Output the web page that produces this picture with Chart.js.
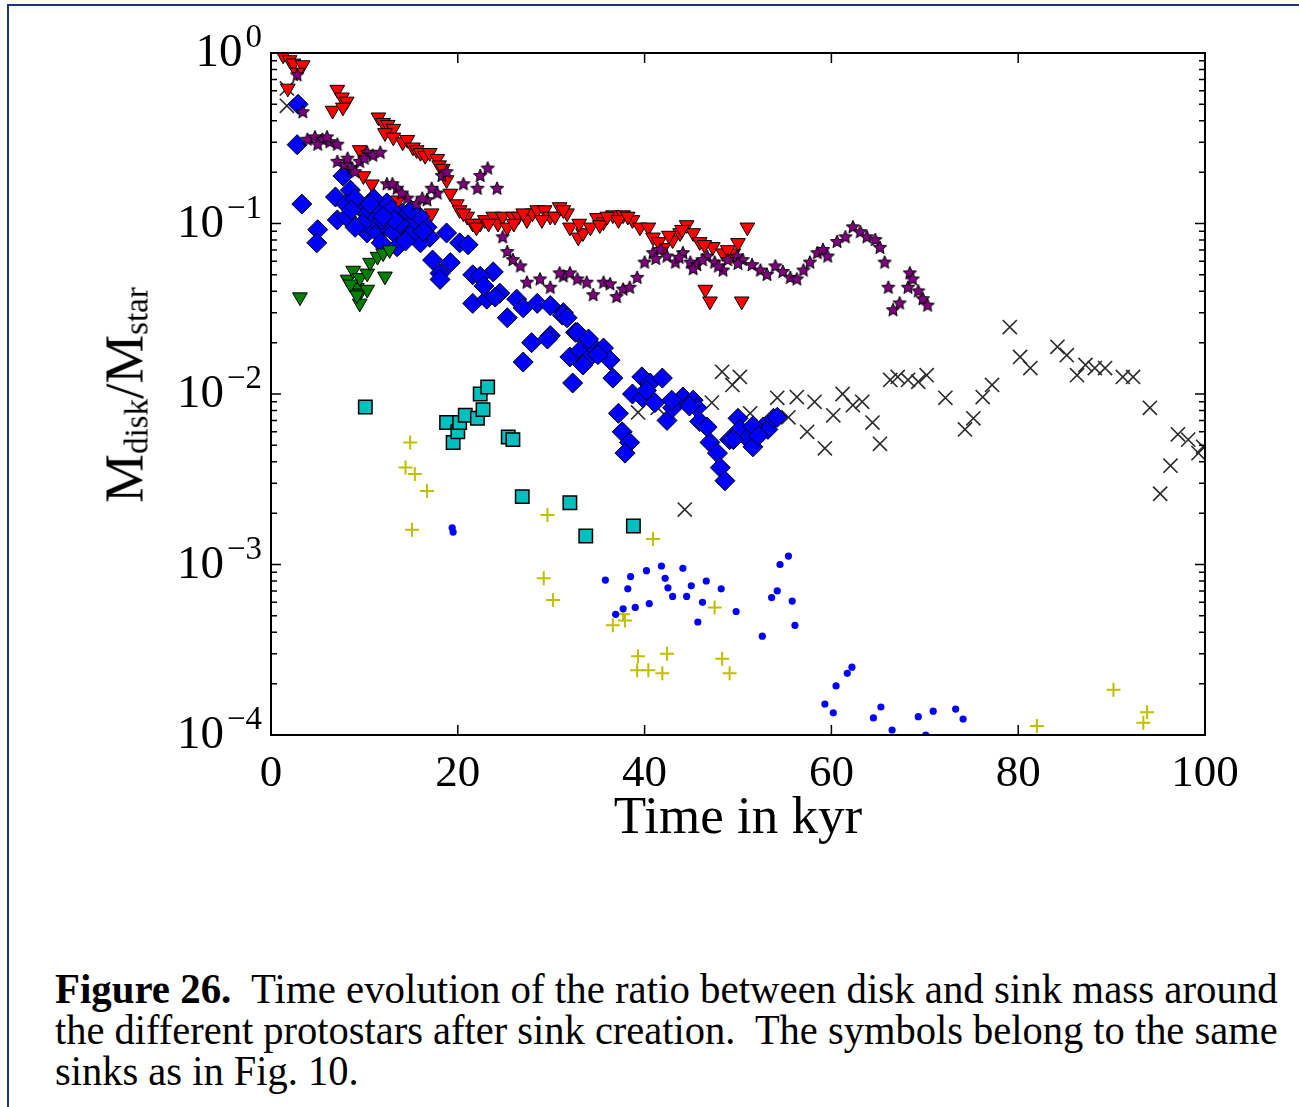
<!DOCTYPE html>
<html>
<head>
<meta charset="utf-8">
<script src="https://cdn.jsdelivr.net/npm/chart.js@4.4.1/dist/chart.umd.min.js"></script>
<style>
  body { margin: 0; background: #fff; width: 1299px; height: 1107px; overflow: hidden; position: relative; font-family: "Liberation Serif", serif; }
  #frame { position: absolute; left: 7px; top: 4px; width: 1400px; height: 1200px; border: 2px solid #1d3570; }
  #plot { position: absolute; left: 0; top: 0; }
  #ytitle { position: absolute; left: 124px; top: 395px; font-size: 55px; line-height: 1; white-space: nowrap;
            transform: translate(-50%, -50%) rotate(-90deg); color: #000; }
  #ytitle sub { font-size: 33px; vertical-align: -5px; line-height: 0; }
  .cap { position: absolute; left: 55px; font-size: 42px; line-height: 40px; white-space: pre; transform-origin: 0 0; color: #000; }
</style>
</head>
<body>
<div id="frame"></div>
<canvas id="plot" width="1299" height="900"></canvas>
<div id="ytitle">M<sub>disk</sub>/M<sub>star</sub></div>
<div class="cap" id="cap1" style="top:969px"><b>Figure 26.</b>  Time evolution of the ratio between disk and sink mass around</div>
<div class="cap" id="cap2" style="top:1010px">the different protostars after sink creation.  The symbols belong to the same</div>
<div class="cap" id="cap3" style="top:1051px">sinks as in Fig. 10.</div>
<script>
// time in kyr, Mdisk/Mstar
const redTri = [[1.3,0.97],[2.0,0.91],[2.4,0.87],[3.4,0.85],[2.8,0.77],[1.8,0.62],
  [7.1,0.61],[7.6,0.55],[8.1,0.52],[6.6,0.46],[7.7,0.48],
  [11.5,0.42],[12.0,0.39],[12.5,0.38],[13.1,0.36],[12.2,0.34],[13.1,0.32],
  [14.1,0.30],[14.6,0.31],[15.2,0.28],[15.6,0.27],[16.0,0.26],[16.5,0.25],[17.0,0.26],[17.8,0.24],[18.0,0.22],
  [18.4,0.21],[18.8,0.18],[19.2,0.15],[19.9,0.13],[20.2,0.12],[21.0,0.11],[21.6,0.10],[22.4,0.10],[22.9,0.105],
  [23.8,0.11],[24.3,0.10],[24.8,0.11],[25.3,0.095],[25.9,0.11],[26.5,0.11],[27.4,0.105],[28.0,0.115],[28.5,0.12],
  [29.3,0.12],[29.9,0.11],[30.4,0.11],[30.9,0.125],[31.7,0.115],[32.0,0.095],[32.9,0.083],[33.4,0.088],[34.2,0.095],
  [34.9,0.108],[35.6,0.102],[36.6,0.112],[37.7,0.112],[38.7,0.105],[39.5,0.095],[40.4,0.095],[40.9,0.083],[42.0,0.072],
  [43.0,0.080],[43.8,0.088],[44.5,0.098],[45.2,0.088],[45.9,0.078],[47.3,0.073],[48.4,0.067],[49.5,0.067],[50.0,0.077],
  [51.0,0.095],[46.5,0.041],[47.0,0.035],[50.4,0.035],
  [9.5,0.27],[9.9,0.19],[10.8,0.17],[17.2,0.115],[13.6,0.137],
  [20.6,0.115],[22.0,0.095],[23.3,0.10],[26.0,0.10],[27.0,0.115],[29.0,0.105],[31.3,0.12],[33.0,0.10],[35.2,0.098],
  [36.0,0.11],[37.2,0.105],[38.2,0.11],[41.5,0.078],[42.6,0.085],[44.0,0.092],[46.4,0.075],[48.9,0.07]];

const purpleStar = [[2.8,0.74],[3.4,0.45],[3.9,0.31],[4.7,0.32],[5.5,0.31],[6.3,0.30],[7.1,0.29],[7.1,0.23],[7.9,0.22],
  [8.7,0.21],[9.5,0.23],[10.3,0.26],[10.9,0.25],[11.7,0.26],[12.4,0.17],[13.5,0.16],[14.6,0.14],[15.6,0.13],[16.7,0.137],
  [17.8,0.15],[18.3,0.19],[18.8,0.20],[20.6,0.17],[22.1,0.16],[22.4,0.19],[23.2,0.21],[24.2,0.16],[24.8,0.083],[25.3,0.068],
  [25.9,0.061],[26.7,0.056],[27.4,0.045],[28.8,0.047],[29.9,0.042],[31.3,0.049],[32.0,0.051],[30.9,0.051],[32.8,0.047],
  [33.8,0.045],[34.5,0.038],[35.6,0.045],[36.3,0.044],[37.0,0.037],[37.7,0.041],[38.4,0.042],[39.2,0.048],[40.0,0.059],
  [40.9,0.067],[41.7,0.070],[42.4,0.064],[43.3,0.059],[44.1,0.067],[44.9,0.059],[45.6,0.057],[46.7,0.064],[47.5,0.059],
  [48.4,0.053],[48.9,0.061],[49.9,0.064],[50.5,0.061],[51.5,0.057],[52.4,0.053],[53.1,0.050],[54.0,0.056],[54.8,0.052],
  [55.6,0.048],[56.3,0.047],[57.0,0.053],[57.7,0.059],[58.5,0.067],[59.1,0.070],[59.6,0.064],[60.6,0.078],[61.5,0.083],
  [62.3,0.095],[63.1,0.089],[63.8,0.083],[64.7,0.080],[65.2,0.072],[65.7,0.059],[66.1,0.042],[66.6,0.031],[67.3,0.034],
  [68.2,0.042],[68.4,0.051],[68.7,0.047],[69.3,0.040],[69.8,0.036],[70.3,0.033],
  [5.0,0.29],[6.0,0.32],[8.2,0.24],[9.0,0.20],[10.0,0.24],[13.0,0.17],[14.0,0.15],[16.2,0.14],[17.2,0.16],
  [41.2,0.062],[43.7,0.063],[45.2,0.054],[46.2,0.061],[47.9,0.056],[50.0,0.058]];

const blueDiamond = [[2.9,0.50],[2.8,0.29],[3.3,0.13],[5.0,0.092],[4.9,0.077],[7.7,0.19],[8.5,0.157],[6.9,0.143],[7.1,0.105],
  [8.1,0.109],[9.5,0.125],[10.3,0.115],[11.4,0.12],[10.9,0.102],[10.3,0.088],[11.4,0.088],[12.4,0.132],[12.4,0.095],
  [13.1,0.089],[13.5,0.073],[14.1,0.115],[14.6,0.095],[15.2,0.102],[15.6,0.083],[16.7,0.095],[17.0,0.083],[16.0,0.077],
  [17.3,0.061],[18.1,0.051],[18.8,0.088],[20.2,0.077],[21.1,0.075],[19.2,0.059],[21.6,0.050],[23.8,0.052],[22.4,0.049],
  [18.1,0.047],[21.6,0.034],[23.1,0.036],[25.3,0.028],[27.0,0.0154],[27.9,0.020],[29.9,0.022],[29.6,0.021],[31.3,0.030],
  [32.0,0.0165],[32.6,0.023],[32.3,0.0116],[24.5,0.039],[26.3,0.036],[27.0,0.032],[28.5,0.034],[29.9,0.033],[31.2,0.029],
  [31.7,0.028],[32.8,0.023],[33.1,0.018],[34.5,0.019],[35.6,0.0186],[36.3,0.0158],[33.8,0.0158],[33.4,0.0148],[36.6,0.0124],
  [37.2,0.0077],[37.6,0.0060],[38.4,0.0052],[37.9,0.0045],[39.7,0.0126],[40.6,0.0116],[41.9,0.0124],[38.7,0.010],
  [39.8,0.0095],[41.1,0.0089],[42.4,0.0070],[43.0,0.0083],[44.1,0.0096],[45.2,0.0092],[45.6,0.0083],[45.9,0.0069],
  [46.7,0.0064],[47.0,0.0052],[47.8,0.0045],[48.1,0.0037],[48.6,0.0031],[49.1,0.0054],[50.0,0.0072],[50.2,0.0062],
  [51.0,0.0055],[51.6,0.0049],[52.7,0.0064],[53.2,0.0062],[53.8,0.0072],[54.2,0.0073],[49.5,0.0054],
  [8.0,0.13],[9.0,0.14],[9.8,0.10],[11.0,0.14],[11.9,0.105],[12.9,0.12],[13.8,0.10],[14.9,0.085],[15.9,0.11],
  [16.3,0.09],[9.0,0.095],[11.8,0.077],[13.2,0.105],[15.0,0.12],[10.6,0.13],[8.6,0.12],[14.4,0.079],[12.0,0.11],
  [22.8,0.043],[24.0,0.037],[34.0,0.021],[35.0,0.017],[40.2,0.0105],[42.9,0.0092],[44.8,0.0085],[51.6,0.0065],[52.2,0.0057]];

const greenTri = [[3.1,0.037],[8.2,0.047],[8.8,0.053],[9.2,0.042],[9.5,0.048],[9.5,0.039],[10.3,0.051],[10.3,0.041],
  [10.6,0.059],[11.4,0.064],[12.0,0.067],[12.2,0.049],[8.5,0.044],[9.5,0.034],[9.2,0.038],[12.7,0.07]];

const cyanSquare = [[10.1,0.0084],[18.8,0.0068],[19.5,0.0052],[20.0,0.0060],[20.2,0.0068],[20.8,0.0075],[22.1,0.0072],
  [22.4,0.010],[22.7,0.0081],[23.2,0.011],[25.4,0.0056],[25.9,0.0054],[26.9,0.0025],[32.0,0.0023],[33.7,0.00147],[38.8,0.00168]];

const yellowPlus = [[14.9,0.0052],[14.4,0.0037],[15.4,0.0034],[16.7,0.0027],[15.1,0.0016],[29.6,0.00195],[29.2,0.00083],
  [30.2,0.00062],[40.9,0.00141],[37.7,0.00051],[36.6,0.00044],[37.9,0.00047],[47.5,0.00056],[39.3,0.00029],[42.4,0.00030],
  [39.2,0.00024],[40.4,0.00024],[41.9,0.00023],[48.3,0.00028],[49.1,0.00023],[82.0,0.000113],[90.2,0.000184],
  [93.8,0.000136],[93.4,0.000118]];

const blueDot = [[19.4,0.00164],[19.5,0.00155],[35.8,0.00081],[38.5,0.00085],[38.2,0.00072],[40.2,0.00092],[41.8,0.00098],
  [42.2,0.00083],[42.5,0.00073],[43.0,0.00065],[44.1,0.00095],[45.0,0.00075],[44.5,0.00065],[46.6,0.0008],[46.2,0.0006],
  [48.2,0.00072],[45.7,0.00046],[49.8,0.00053],[40.5,0.00059],[39.0,0.00056],[37.7,0.00055],[36.9,0.00051],[52.6,0.00038],
  [53.6,0.00064],[54.2,0.0007],[54.5,0.001],[55.4,0.00112],[55.8,0.00061],[56.1,0.00044],[59.3,0.000152],[60.2,0.000135],
  [60.5,0.000194],[61.7,0.00023],[62.2,0.00025],[64.5,0.000126],[65.3,0.000146],[66.5,0.000107],[69.3,0.000128],
  [70.9,0.000138],[70.1,0.0001],[73.3,0.000142],[74.1,0.000124]];

const blackX = [[1.7,0.62],[1.7,0.49],[48.3,0.0135],[50.2,0.0126],[49.4,0.0113],[47.2,0.0089],[39.3,0.0078],[41.4,0.0083],
  [54.2,0.0095],[56.3,0.0096],[58.2,0.009],[60.2,0.0075],[61.2,0.010],[62.3,0.0086],[63.3,0.009],[64.4,0.0068],[51.3,0.0077],
  [55.4,0.0073],[57.4,0.006],[59.3,0.0048],[44.3,0.0021],[65.2,0.0051],[66.3,0.0121],[67.1,0.0126],[68.2,0.0121],
  [69.3,0.0118],[70.2,0.0129],[72.2,0.0095],[74.3,0.0062],[75.2,0.0072],[76.2,0.0096],[77.2,0.0113],[79.1,0.0247],
  [80.2,0.0165],[81.3,0.0142],[84.2,0.0189],[85.2,0.0169],[86.3,0.0129],[87.2,0.0148],[88.2,0.0142],[89.3,0.0142],
  [91.2,0.0126],[92.3,0.0126],[94.1,0.0083],[96.3,0.0038],[95.2,0.0026],[97.1,0.0058],[98.2,0.0054],[99.3,0.0045],[99.8,0.0049]];

const xTicks = [0, 20, 40, 60, 80, 100];
const yTicks = [1, 0.1, 0.01, 0.001, 0.0001];
const yTickExp = ['0', '\u22121', '\u22122', '\u22123', '\u22124'];

const FONT = '"Liberation Serif", "DejaVu Serif", serif';

function pts(arr) {
  return arr.map(p => ({ x: p[0], y: p[1] }));
}

// filled 5-point star marker
function makeStar(r, fill) {
  const s = Math.ceil(r * 2 + 4);
  const c = document.createElement('canvas');
  c.width = s; c.height = s;
  const g = c.getContext('2d');
  g.beginPath();
  for (let i = 0; i < 10; i++) {
    const a = -Math.PI / 2 + i * Math.PI / 5;
    const rr = i % 2 ? r * 0.45 : r;
    g.lineTo(s / 2 + rr * Math.cos(a), s / 2 + rr * Math.sin(a));
  }
  g.closePath();
  g.fillStyle = fill;
  g.fill();
  g.strokeStyle = '#000';
  g.lineWidth = 1;
  g.stroke();
  return c;
}

// frame, inward ticks and log tick labels
const frameTicks = {
  id: 'frameTicks',
  afterDatasetsDraw(chart) {
    const { ctx, chartArea: a, scales: { x, y } } = chart;
    ctx.save();
    ctx.strokeStyle = '#000';
    ctx.lineWidth = 1.5;
    ctx.beginPath();
    xTicks.forEach(v => {
      const px = x.getPixelForValue(v);
      ctx.moveTo(px, a.bottom); ctx.lineTo(px, a.bottom - 10);
      ctx.moveTo(px, a.top); ctx.lineTo(px, a.top + 10);
    });
    yTicks.forEach(v => {
      const py = y.getPixelForValue(v);
      ctx.moveTo(a.left, py); ctx.lineTo(a.left + 10, py);
      ctx.moveTo(a.right, py); ctx.lineTo(a.right - 10, py);
      if (v < 1) {
        for (let k = 2; k <= 9; k++) {
          const pm = y.getPixelForValue(v * k);
          ctx.moveTo(a.left, pm); ctx.lineTo(a.left + 6, pm);
          ctx.moveTo(a.right, pm); ctx.lineTo(a.right - 6, pm);
        }
      }
    });
    ctx.stroke();
    ctx.lineWidth = 2;
    ctx.strokeRect(a.left, a.top, a.right - a.left, a.bottom - a.top);

    ctx.fillStyle = '#000';
    ctx.textAlign = 'right';
    ctx.textBaseline = 'alphabetic';
    yTicks.forEach((v, i) => {
      const py = y.getPixelForValue(v);
      ctx.font = '33px ' + FONT;
      const ew = ctx.measureText(yTickExp[i]).width;
      ctx.fillText(yTickExp[i], a.left - 9, py - 6);
      ctx.font = '47px ' + FONT;
      ctx.fillText('10', a.left - 12 - ew, py + 13);
    });
    ctx.restore();
  }
};

const starImg = makeStar(7, '#7f007f');

new Chart(document.getElementById('plot'), {
  type: 'scatter',
  data: {
    datasets: [
      { data: pts(blueDot), pointStyle: 'circle', pointRadius: 3.6, pointBackgroundColor: '#0000ff', pointBorderWidth: 0, order: 1 },
      { data: pts(yellowPlus), pointStyle: 'cross', pointRadius: 7, pointBorderColor: '#bfbf00', pointBorderWidth: 2, order: 2 },
      { data: pts(cyanSquare), pointStyle: 'rect', pointRadius: 9.5, pointBackgroundColor: '#00bfbf', pointBorderColor: '#000', pointBorderWidth: 1.5, order: 3 },
      { data: pts(greenTri), pointStyle: 'triangle', pointRotation: 180, pointRadius: 8.5, pointBackgroundColor: '#007f00', pointBorderColor: '#000', pointBorderWidth: 1, order: 4 },
      { data: pts(purpleStar), pointStyle: starImg, order: 5 },
      { data: pts(blueDiamond), pointStyle: 'rectRot', pointRadius: 10, pointBackgroundColor: '#0000ff', pointBorderColor: '#000', pointBorderWidth: 1, order: 6 },
      { data: pts(redTri), pointStyle: 'triangle', pointRotation: 180, pointRadius: 8.5, pointBackgroundColor: '#ff0000', pointBorderColor: '#000', pointBorderWidth: 1, order: 7 },
      { data: pts(blackX), pointStyle: 'crossRot', pointRadius: 10, pointBorderColor: '#2a2a2a', pointBorderWidth: 1.6, order: 8 }
    ]
  },
  options: {
    responsive: false,
    animation: false,
    devicePixelRatio: 1,
    events: [],
    layout: { padding: { top: 53, right: 94, bottom: 49, left: 0 } },
    plugins: { legend: { display: false }, tooltip: { enabled: false } },
    scales: {
      x: {
        type: 'linear', min: 0, max: 100,
        afterFit: s => { s.height = 116; },
        grid: { display: false, drawTicks: false },
        border: { display: false },
        ticks: { stepSize: 20, padding: 12, color: '#000', font: { family: FONT, size: 45 } },
        title: { display: true, text: 'Time in kyr', color: '#000', padding: 0, font: { family: FONT, size: 53 } }
      },
      y: {
        type: 'logarithmic', min: 0.0001, max: 1,
        afterFit: s => { s.width = 271; },
        grid: { display: false, drawTicks: false },
        border: { display: false },
        ticks: { display: false }
      }
    }
  },
  plugins: [frameTicks]
});

// caption lines are justified to the text block width
const capWidth = 1223;
const c1 = document.getElementById('cap1');
const c2 = document.getElementById('cap2');
const c3 = document.getElementById('cap3');
const f1 = capWidth / c1.offsetWidth;
const f2 = capWidth / c2.offsetWidth;
c1.style.transform = 'scaleX(' + f1 + ')';
c2.style.transform = 'scaleX(' + f2 + ')';
c3.style.transform = 'scaleX(' + f2 + ')';
</script>
</body>
</html>
